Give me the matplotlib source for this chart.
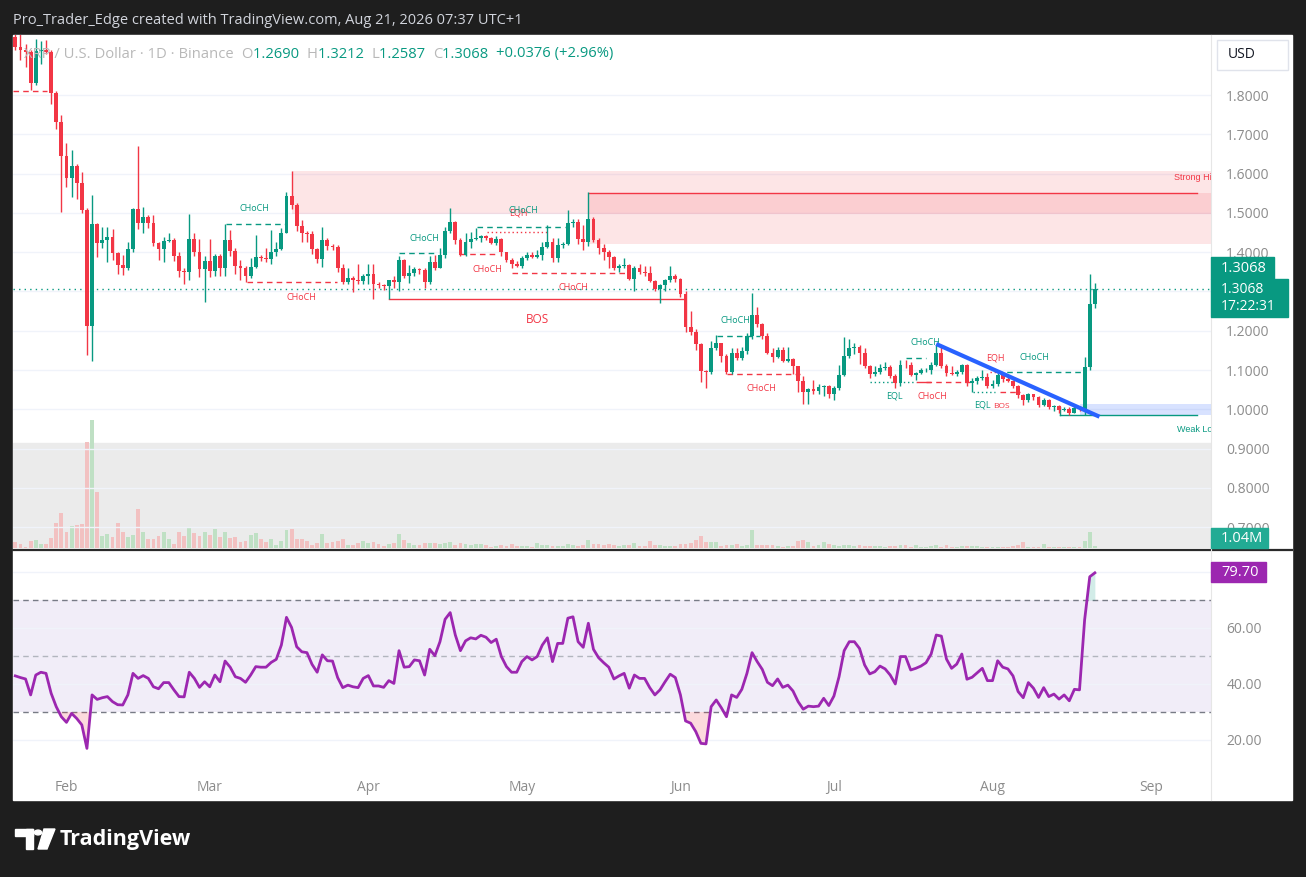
import matplotlib
matplotlib.use("Agg")
import matplotlib.pyplot as plt
import matplotlib.dates as mdates
from matplotlib.patches import Rectangle, Circle, Polygon
from matplotlib.lines import Line2D
import pandas as pd

plt.rcParams['font.family'] = ['Open Sans', 'DejaVu Sans']

# ---- daily XRP/USD candles, Jan 22 .. Aug 21 ----
start_date = '2026-01-22'
first_open = 1.948

closes = [1.922, 1.915, 1.910, 1.831, 1.913, 1.915, 1.910, 1.804, 1.732, 1.646,
          1.588, 1.619, 1.577, 1.508, 1.213, 1.471, 1.423, 1.431, 1.438, 1.399,
          1.367, 1.361, 1.408, 1.510, 1.475, 1.489, 1.475, 1.423, 1.408, 1.428,
          1.431, 1.391, 1.353, 1.350, 1.434, 1.401, 1.357, 1.378, 1.352, 1.390,
          1.361, 1.431, 1.404, 1.364, 1.359, 1.340, 1.362, 1.387, 1.384, 1.382,
          1.400, 1.408, 1.450, 1.543, 1.519, 1.466, 1.449, 1.447, 1.408, 1.383,
          1.431, 1.416, 1.413, 1.360, 1.325, 1.335, 1.330, 1.327, 1.339, 1.345,
          1.318, 1.316, 1.313, 1.328, 1.323, 1.381, 1.340, 1.348, 1.357, 1.355,
          1.325, 1.376, 1.361, 1.393, 1.454, 1.476, 1.431, 1.393, 1.425, 1.434,
          1.436, 1.440, 1.435, 1.424, 1.433, 1.401, 1.380, 1.370, 1.365, 1.384,
          1.393, 1.388, 1.393, 1.414, 1.425, 1.384, 1.418, 1.420, 1.474, 1.478,
          1.434, 1.427, 1.484, 1.431, 1.411, 1.401, 1.389, 1.361, 1.366, 1.368,
          1.332, 1.359, 1.349, 1.346, 1.327, 1.306, 1.317, 1.329, 1.339, 1.331,
          1.294, 1.210, 1.198, 1.166, 1.098, 1.096, 1.156, 1.168, 1.137, 1.096,
          1.143, 1.132, 1.149, 1.187, 1.240, 1.217, 1.187, 1.144, 1.134, 1.151,
          1.123, 1.127, 1.110, 1.073, 1.043, 1.051, 1.048, 1.056, 1.060, 1.038,
          1.054, 1.088, 1.136, 1.157, 1.158, 1.144, 1.110, 1.089, 1.094, 1.106,
          1.107, 1.085, 1.066, 1.113, 1.112, 1.088, 1.093, 1.099, 1.101, 1.113,
          1.143, 1.110, 1.092, 1.090, 1.096, 1.112, 1.067, 1.072, 1.079, 1.083,
          1.060, 1.064, 1.088, 1.077, 1.073, 1.060, 1.037, 1.024, 1.038, 1.031,
          1.011, 1.024, 1.007, 1.008, 0.998, 1.002, 0.992, 1.004, 1.002, 1.107,
          1.269, 1.3068]

highs = [1.975, 1.958, 1.930, 1.915, 1.942, 1.937, 1.940, 1.915, 1.810, 1.750,
         1.678, 1.660, 1.625, 1.605, 1.512, 1.545, 1.475, 1.465, 1.465, 1.460,
         1.400, 1.394, 1.427, 1.512, 1.671, 1.515, 1.495, 1.495, 1.425, 1.438,
         1.448, 1.435, 1.400, 1.360, 1.496, 1.450, 1.434, 1.390, 1.434, 1.395,
         1.395, 1.472, 1.457, 1.410, 1.380, 1.365, 1.385, 1.444, 1.392, 1.410,
         1.457, 1.427, 1.462, 1.552, 1.607, 1.525, 1.482, 1.455, 1.455, 1.410,
         1.465, 1.435, 1.420, 1.418, 1.370, 1.360, 1.340, 1.370, 1.345, 1.370,
         1.370, 1.325, 1.320, 1.330, 1.340, 1.390, 1.382, 1.367, 1.362, 1.360,
         1.360, 1.390, 1.392, 1.410, 1.465, 1.512, 1.480, 1.435, 1.450, 1.452,
         1.462, 1.445, 1.445, 1.438, 1.440, 1.435, 1.400, 1.385, 1.378, 1.390,
         1.400, 1.400, 1.405, 1.425, 1.468, 1.435, 1.437, 1.425, 1.507, 1.485,
         1.484, 1.470, 1.552, 1.490, 1.435, 1.420, 1.405, 1.390, 1.370, 1.385,
         1.370, 1.365, 1.370, 1.365, 1.365, 1.330, 1.320, 1.332, 1.365, 1.345,
         1.335, 1.300, 1.250, 1.205, 1.170, 1.100, 1.175, 1.190, 1.170, 1.140,
         1.155, 1.155, 1.160, 1.195, 1.296, 1.260, 1.220, 1.195, 1.157, 1.160,
         1.160, 1.160, 1.130, 1.110, 1.085, 1.055, 1.076, 1.065, 1.062, 1.062,
         1.060, 1.112, 1.185, 1.180, 1.170, 1.165, 1.155, 1.112, 1.110, 1.115,
         1.120, 1.112, 1.090, 1.125, 1.125, 1.120, 1.095, 1.105, 1.105, 1.120,
         1.164, 1.161, 1.115, 1.110, 1.100, 1.115, 1.115, 1.080, 1.085, 1.100,
         1.092, 1.075, 1.097, 1.090, 1.085, 1.075, 1.062, 1.040, 1.042, 1.040,
         1.035, 1.028, 1.026, 1.012, 1.010, 1.006, 1.005, 1.008, 1.008, 1.134,
         1.345, 1.3212]

lows = [1.915, 1.889, 1.870, 1.813, 1.825, 1.880, 1.905, 1.777, 1.713, 1.503,
        1.565, 1.540, 1.535, 1.500, 1.138, 1.123, 1.388, 1.410, 1.376, 1.381,
        1.345, 1.343, 1.355, 1.400, 1.460, 1.450, 1.462, 1.415, 1.380, 1.375,
        1.425, 1.377, 1.338, 1.319, 1.330, 1.390, 1.338, 1.274, 1.338, 1.340,
        1.340, 1.340, 1.390, 1.345, 1.329, 1.325, 1.335, 1.360, 1.378, 1.375,
        1.370, 1.390, 1.405, 1.450, 1.510, 1.455, 1.427, 1.427, 1.395, 1.372,
        1.363, 1.405, 1.405, 1.350, 1.320, 1.320, 1.299, 1.320, 1.320, 1.320,
        1.280, 1.310, 1.305, 1.280, 1.310, 1.300, 1.335, 1.321, 1.340, 1.345,
        1.310, 1.320, 1.355, 1.360, 1.385, 1.450, 1.422, 1.390, 1.390, 1.410,
        1.430, 1.425, 1.430, 1.420, 1.418, 1.390, 1.375, 1.360, 1.362, 1.360,
        1.380, 1.385, 1.385, 1.380, 1.410, 1.375, 1.375, 1.410, 1.418, 1.465,
        1.420, 1.405, 1.415, 1.425, 1.395, 1.380, 1.360, 1.355, 1.350, 1.360,
        1.330, 1.300, 1.345, 1.340, 1.325, 1.300, 1.270, 1.300, 1.325, 1.325,
        1.285, 1.198, 1.190, 1.150, 1.070, 1.054, 1.090, 1.150, 1.120, 1.090,
        1.090, 1.125, 1.125, 1.140, 1.180, 1.210, 1.180, 1.140, 1.120, 1.130,
        1.120, 1.120, 1.090, 1.045, 1.014, 1.015, 1.040, 1.040, 1.035, 1.030,
        1.025, 1.050, 1.085, 1.130, 1.140, 1.115, 1.105, 1.080, 1.085, 1.090,
        1.100, 1.080, 1.055, 1.060, 1.105, 1.085, 1.075, 1.090, 1.095, 1.090,
        1.110, 1.105, 1.085, 1.088, 1.085, 1.090, 1.060, 1.045, 1.065, 1.075,
        1.055, 1.055, 1.060, 1.070, 1.070, 1.055, 1.030, 1.010, 1.020, 1.025,
        1.005, 1.008, 1.000, 0.995, 0.990, 0.995, 0.985, 0.990, 0.995, 0.985,
        1.100, 1.2587]

# volume in millions
volumes = [2.6, 1.9, 0.6, 3.3, 3.7, 1.9, 1.9, 4.6, 11.4, 15.9,
           7.3, 10.0, 10.5, 10.9, 47.8, 57.7, 25.3, 5.5, 6.4, 5.1,
           11.4, 7.3, 5.1, 6.0, 17.7, 7.3, 4.2, 4.2, 5.5, 7.3,
           4.2, 1.9, 7.3, 5.5, 9.1, 6.9, 5.5, 7.3, 6.0, 8.7,
           5.1, 7.3, 4.6, 5.1, 2.8, 3.3, 6.0, 6.9, 4.2, 2.8,
           4.2, 1.5, 3.3, 8.2, 8.7, 4.2, 4.2, 3.3, 1.5, 2.4,
           6.4, 2.4, 2.8, 3.3, 4.2, 1.5, 1.5, 2.4, 3.3, 2.4,
           2.8, 1.9, 1.0, 1.9, 2.4, 6.4, 3.7, 2.4, 1.5, 1.5,
           2.4, 2.4, 2.4, 1.9, 2.4, 2.8, 1.5, 2.4, 1.9, 1.5,
           1.9, 1.9, 1.5, 0.6, 1.0, 1.5, 1.0, 1.9, 1.0, 1.0,
           1.0, 0.6, 2.4, 1.5, 1.5, 1.0, 1.0, 1.0, 1.9, 1.5,
           1.0, 1.5, 3.7, 1.9, 1.9, 1.5, 1.9, 1.5, 1.0, 1.5,
           1.5, 2.4, 1.0, 1.0, 3.3, 1.5, 1.5, 1.0, 1.0, 1.0,
           1.9, 1.9, 2.4, 3.7, 5.5, 2.8, 2.8, 2.8, 1.0, 1.5,
           1.5, 1.9, 1.0, 1.5, 8.2, 1.5, 1.5, 1.5, 1.5, 1.0,
           0.6, 1.0, 1.0, 3.3, 3.7, 2.8, 1.0, 1.5, 2.8, 1.9,
           1.5, 1.0, 1.5, 1.5, 1.0, 1.5, 1.0, 1.0, 1.0, 1.0,
           0.6, 1.0, 1.0, 1.5, 1.5, 0.6, 1.5, 0.6, 0.6, 1.0,
           1.5, 0.6, 1.5, 0.6, 0.6, 1.0, 1.0, 1.0, 1.0, 0.6,
           0.6, 0.6, 0.6, 0.6, 0.6, 1.0, 1.5, 2.8, 0.6, 0.6,
           0.6, 1.9, 0.6, 0.6, 0.6, 0.6, 0.6, 0.6, 0.6, 3.3,
           7.3, 1.04]

rsi = [42.9, 42.3, 41.8, 36.1, 43.2, 44.2, 43.8, 36.7, 31.9, 28.3,
       26.3, 29.5, 27.7, 25.4, 17.0, 36.1, 34.5, 35.1, 35.5, 33.7,
       32.6, 32.5, 36.1, 43.8, 42.0, 43.0, 42.0, 39.0, 38.3, 40.5,
       40.5, 37.9, 35.5, 35.4, 44.2, 42.0, 38.8, 40.8, 39.0, 43.2,
       40.8, 48.2, 46.0, 42.6, 42.0, 40.6, 43.2, 46.2, 46.0, 46.0,
       47.7, 48.8, 53.9, 63.8, 60.2, 53.3, 51.5, 51.2, 47.0, 44.2,
       50.4, 48.3, 48.2, 42.3, 38.7, 39.6, 39.0, 38.7, 42.0, 43.0,
       39.3, 39.3, 38.8, 41.2, 40.2, 51.9, 46.0, 46.2, 48.6, 48.3,
       43.2, 52.4, 50.1, 55.1, 63.1, 65.5, 57.5, 51.9, 55.4, 56.5,
       56.1, 57.4, 56.7, 54.8, 56.0, 49.8, 46.2, 44.2, 44.2, 48.0,
       49.8, 48.6, 49.8, 53.9, 56.5, 48.0, 54.5, 54.5, 63.5, 64.0,
       55.1, 53.1, 61.7, 52.4, 49.4, 47.6, 46.0, 41.8, 42.9, 43.8,
       38.5, 43.2, 42.0, 42.0, 38.7, 36.1, 37.9, 40.8, 43.5, 42.3,
       36.1, 26.8, 26.0, 23.0, 18.8, 18.6, 31.9, 34.3, 31.5, 28.3,
       36.1, 35.2, 38.1, 43.8, 51.2, 48.0, 45.2, 40.6, 39.4, 41.8,
       38.8, 39.6, 37.5, 33.7, 31.0, 32.1, 31.9, 32.1, 34.9, 32.3,
       35.7, 42.6, 51.9, 55.1, 55.1, 52.7, 46.8, 43.6, 44.4, 46.4,
       45.4, 43.2, 40.0, 49.8, 49.8, 45.0, 45.6, 46.4, 47.6, 50.7,
       57.5, 57.1, 48.9, 45.6, 47.1, 50.7, 41.7, 42.4, 44.0, 45.6,
       41.2, 41.2, 48.3, 46.0, 45.4, 42.9, 37.3, 35.1, 40.5, 38.5,
       35.2, 38.7, 35.5, 36.4, 34.6, 36.1, 34.0, 38.1, 37.9, 62.9,
       78.3, 79.7]

price_ticks = [0.7, 0.8, 0.9, 1.0, 1.1, 1.2, 1.3, 1.4, 1.5, 1.6, 1.7, 1.8]
price_hidden = [1.3]          # covered by the last-price tag
rsi_ticks = [20, 40, 60, 80]
rsi_hidden = [80]             # covered by the RSI value tag

GREEN = '#089981'
RED = '#f23645'
W, H = 1306, 877

dates = pd.date_range(start_date, periods=len(closes), freq='D')
opens = [first_open] + closes[:-1]
d0 = dates[0]


def day(n):
    return d0 + pd.Timedelta(days=n)


def fx(x):
    return x / W


def fy(y):
    return 1 - y / H


fig = plt.figure(figsize=(W / 100, H / 100), dpi=100, facecolor='#1e1e1e')
fig.patches.append(Rectangle((fx(13), fy(800)), fx(1292) - fx(13), fy(35) - fy(800),
                             transform=fig.transFigure, color='white', zorder=-5))

vax = fig.add_axes([fx(13), fy(548), fx(1211) - fx(13), fy(35) - fy(548)])
ax = fig.add_axes([fx(13), fy(548), fx(1211) - fx(13), fy(35) - fy(548)], sharex=vax)
ax.set_zorder(vax.get_zorder() + 1)
ax.patch.set_visible(False)
rax = fig.add_axes([fx(13), fy(772), fx(1211) - fx(13), fy(551) - fy(772)], sharex=vax)

xmin, xmax = day(-0.45), day(233.7)
pmin, pmax = 0.6473, 1.9527

# volume (behind)
vax.set_ylim(0, 230.8)
vax.set_xlim(xmin, xmax)
vax.add_patch(Rectangle((0, pmin), 1, 0.9155 - pmin, transform=ax.get_yaxis_transform(),
                        color='#ebebeb', zorder=0))
vcols = ['#bfe0c4' if c >= o else '#f2c1c1' for o, c in zip(opens, closes)]
vax.bar(dates, volumes, width=0.75, color=vcols, zorder=1)
vax.set_axis_off()

# grid
for p in price_ticks:
    ax.axhline(p, color='#f0f3fa', lw=1, zorder=0)

# supply zones
ax.add_patch(Rectangle((mdates.date2num(day(54.1)), 1.4964), 300, 1.607 - 1.4964,
                       color='#f23645', alpha=0.13, lw=0, zorder=1))
ax.add_patch(Rectangle((mdates.date2num(day(112.1)), 1.4221), 300, 1.5499 - 1.4221,
                       color='#f23645', alpha=0.13, lw=0, zorder=1))
ax.plot([day(112.1), day(231)], [1.5499, 1.5499], color=RED, lw=1, zorder=2)
ax.text(day(226.4), 1.5896, 'Strong High', color=RED, fontsize=6.5, va='center', ha='left',
        family=['Liberation Sans'], clip_on=True, zorder=3)

# demand zone
ax.add_patch(Rectangle((mdates.date2num(day(208)), 0.9858), 300, 1.0137 - 0.9858,
                       color='#2962ff', alpha=0.18, lw=0, zorder=1))
ax.plot([day(204.1), day(231)], [0.9858, 0.9858], color=GREEN, lw=1, zorder=2)
ax.plot([day(204.1), day(204.1)], [0.9858, 1.006], color=GREEN, lw=1, zorder=2)
ax.text(day(227.1), 0.950, 'Weak Low', color=GREEN, fontsize=6.5, va='center', ha='left',
        family=['Liberation Sans'], clip_on=True, zorder=3)

# structure lines: (start day, end day, price, colour, style)
struct_lines = [
    (-0.5, 6.2, 1.810, RED, (0, (4, 3))),
    (41.1, 53.0, 1.471, GREEN, (0, (4, 3))),
    (45.2, 62.8, 1.3234, RED, (0, (4, 3))),
    (75.0, 81.9, 1.3975, GREEN, (0, (4, 3))),
    (73.1, 130.5, 1.280, RED, '-'),
    (86.9, 93.7, 1.3957, RED, (0, (4, 3))),
    (90.2, 107.4, 1.4634, GREEN, (0, (4, 3))),
    (92.1, 104.1, 1.4506, RED, (0, (1, 2))),
    (97.1, 119.7, 1.347, RED, (0, (4, 3))),
    (137.2, 145.5, 1.1868, GREEN, (0, (4, 3))),
    (139.1, 153.3, 1.090, RED, (0, (4, 3))),
    (167.0, 176.1, 1.0705, GREEN, (0, (1, 2))),
    (176.2, 178.7, 1.0705, RED, '-'),
    (174.0, 178.0, 1.130, GREEN, (0, (4, 3))),
    (178.0, 186.5, 1.069, RED, (0, (4, 3))),
    (190.5, 192.8, 1.0944, RED, (0, (1, 2))),
    (191.8, 208.6, 1.0944, GREEN, (0, (4, 3))),
    (187.1, 191.4, 1.0435, GREEN, (0, (1, 2))),
    (192.4, 196.3, 1.0435, RED, (0, (4, 3))),
]
for a, b, p, c, ls in struct_lines:
    ax.plot([day(a), day(b)], [p, p], color=c, lw=1, ls=ls, zorder=2)

# structure labels: (day, price, text, colour, size)
struct_labels = [
    (46.8, 1.510, 'CHoCH', GREEN, 6.5),
    (56.0, 1.286, 'CHoCH', RED, 6.5),
    (80.0, 1.436, 'CHoCH', GREEN, 6.5),
    (102.1, 1.230, 'BOS', RED, 8.5),
    (92.2, 1.355, 'CHoCH', RED, 6.5),
    (98.3, 1.501, 'EQH', RED, 6.5),
    (99.4, 1.505, 'CHoCH', GREEN, 6.5),
    (109.0, 1.309, 'CHoCH', RED, 6.5),
    (140.8, 1.227, 'CHoCH', GREEN, 6.5),
    (145.9, 1.052, 'CHoCH', RED, 6.5),
    (171.9, 1.034, 'EQL', GREEN, 6.5),
    (177.9, 1.169, 'CHoCH', GREEN, 6.5),
    (179.2, 1.032, 'CHoCH', RED, 6.5),
    (191.6, 1.131, 'EQH', RED, 6.5),
    (199.1, 1.133, 'CHoCH', GREEN, 6.5),
    (189.1, 1.011, 'EQL', GREEN, 6.5),
    (192.8, 1.008, 'BOS', RED, 6.0),
]
for d, p, t, c, s in struct_labels:
    ax.text(day(d), p, t, color=c, fontsize=s, ha='center', va='center', zorder=3)

# candles
ccols = [GREEN if c >= o else RED for o, c in zip(opens, closes)]
wick_lo = [min(l, o, c) for l, o, c in zip(lows, opens, closes)]
wick_hi = [max(h, o, c) for h, o, c in zip(highs, opens, closes)]
ax.vlines(dates, wick_lo, wick_hi, colors=ccols, lw=1, zorder=4)
bottoms = [min(o, c) for o, c in zip(opens, closes)]
heights = [max(abs(c - o), 0.0012) for o, c in zip(opens, closes)]
ax.bar(dates, heights, bottom=bottoms, width=0.75, color=ccols, zorder=5)

# trend line
ax.plot([day(180), day(211.9)], [1.1664, 0.9814], color='#2962ff', lw=3, solid_capstyle='butt', zorder=6)

# last price line
ax.axhline(closes[-1], color=GREEN, lw=1, ls=(0, (1, 3)), zorder=3)

ax.set_xlim(xmin, xmax)
ax.set_ylim(pmin, pmax)
ax.yaxis.tick_right()
ax.set_yticks(price_ticks)
ax.set_yticklabels(['' if p in price_hidden else f'{p:.4f}' for p in price_ticks])
ax.tick_params(axis='y', length=0, pad=11, labelsize=10, labelcolor='#8c8c8c')
ax.tick_params(axis='x', bottom=False, labelbottom=False)
for s in ax.spines.values():
    s.set_visible(False)

# RSI pane
rax.axhspan(30, 70, color='#7e57c2', alpha=0.1, lw=0, zorder=0)
for r in rsi_ticks:
    rax.axhline(r, color='#f0f3fa', lw=1, zorder=0)
rax.axhline(70, color='#787b86', lw=1, ls=(0, (4, 3)), zorder=1)
rax.axhline(30, color='#787b86', lw=1, ls=(0, (4, 3)), zorder=1)
rax.axhline(50, color='#b2b5be', lw=1, ls=(0, (4, 3)), zorder=1)
rax.fill_between(dates, rsi, 30, where=[v < 30 for v in rsi], interpolate=True,
                 color='#f23645', alpha=0.18, lw=0, zorder=1)
rax.fill_between(dates, rsi, 70, where=[v > 70 for v in rsi], interpolate=True,
                 color='#089981', alpha=0.18, lw=0, zorder=1)
rax.plot(dates, rsi, color='#9c27b0', lw=2, zorder=3)
rax.set_ylim(8.57, 87.5)
rax.set_xlim(xmin, xmax)
rax.yaxis.tick_right()
rax.set_yticks(rsi_ticks)
rax.set_yticklabels(['' if r in rsi_hidden else f'{r:.2f}' for r in rsi_ticks])
rax.tick_params(axis='y', length=0, pad=11, labelsize=10, labelcolor='#8c8c8c')
rax.xaxis.set_major_locator(mdates.MonthLocator())
rax.xaxis.set_major_formatter(mdates.DateFormatter('%b'))
rax.tick_params(axis='x', length=0, pad=6, labelsize=10, labelcolor='#8c8c8c')
for s in rax.spines.values():
    s.set_visible(False)

# separators
fig.lines.append(Line2D([fx(13), fx(1292)], [fy(549.5), fy(549.5)], transform=fig.transFigure,
                        color='#2a2a2a', lw=1.6, zorder=6))
fig.lines.append(Line2D([fx(1211), fx(1211)], [fy(35), fy(800)], transform=fig.transFigure,
                        color='#e6e6e6', lw=0.8, zorder=6))


def fig_box(x0, y0, x1, y1, fc, ec=None):
    fig.patches.append(Rectangle((fx(x0), fy(y1)), fx(x1) - fx(x0), fy(y0) - fy(y1),
                                 transform=fig.transFigure, facecolor=fc,
                                 edgecolor=ec if ec else fc, lw=1, zorder=7))


# price axis tags
fig_box(1211, 257, 1274, 279, GREEN)
fig.text(fx(1221), fy(268), f'{closes[-1]:.4f}', color='white', fontsize=10.5, va='center', zorder=8)
fig_box(1211, 279, 1288, 317, GREEN)
fig.text(fx(1221), fy(289), f'{closes[-1]:.4f}', color='white', fontsize=10, va='center', zorder=8)
fig.text(fx(1221), fy(307), '17:22:31', color='white', fontsize=10, va='center', zorder=8)
fig_box(1211, 528, 1268, 548, '#22ab94')
fig.text(fx(1221), fy(538.5), f'{volumes[-1]:.2f}M', color='white', fontsize=10.5, va='center', zorder=8)
fig_box(1211, 562, 1266, 582, '#9c27b0')
fig.text(fx(1221), fy(572.5), f'{rsi[-1]:.2f}', color='white', fontsize=10.5, va='center', zorder=8)
fig_box(1217, 40, 1288, 70, 'white', '#e0e3eb')
fig.text(fx(1228), fy(55), 'USD', color='#131722', fontsize=10, va='center', zorder=8)

# header texts
fig.text(fx(13), fy(20), 'Pro_Trader_Edge created with TradingView.com, Aug 21, 2026 07:37 UTC+1',
         color='#d1d4dc', fontsize=10.5, va='center')
legend_parts = [
    ('XRP / U.S. Dollar \u00b7 1D \u00b7 Binance  ', '#b8b8b8'),
    ('O', '#b8b8b8'), (f'{opens[-1]:.4f}  ', GREEN),
    ('H', '#b8b8b8'), (f'{highs[-1]:.4f}  ', GREEN),
    ('L', '#b8b8b8'), (f'{lows[-1]:.4f}  ', GREEN),
    ('C', '#b8b8b8'), (f'{closes[-1]:.4f}  ', GREEN),
    ('+0.0376 (+2.96%)', GREEN),
]
fig.canvas.draw()
renderer = fig.canvas.get_renderer()
x_cur = 24
for txt, col in legend_parts:
    tt = fig.text(fx(x_cur), fy(54), txt, color=col, fontsize=10.6, va='center', zorder=8)
    x_cur += tt.get_window_extent(renderer).width

# TradingView logo
logo = [Rectangle((fx(15), fy(836)), fx(33) - fx(15), fy(829) - fy(836)),
        Rectangle((fx(26), fy(849)), fx(33) - fx(26), fy(829) - fy(849)),
        Circle((fx(38), fy(832.5)), 3.6 / W),
        Polygon([(fx(44), fy(829)), (fx(55), fy(829)), (fx(47), fy(849)), (fx(38), fy(849))])]
for p in logo:
    p.set_transform(fig.transFigure)
    p.set_color('white')
    fig.patches.append(p)
fig.text(fx(60), fy(839), 'TradingView', color='white', fontsize=15.5, fontweight='bold', va='center')

fig.savefig('out.png', dpi=100, facecolor=fig.get_facecolor())
